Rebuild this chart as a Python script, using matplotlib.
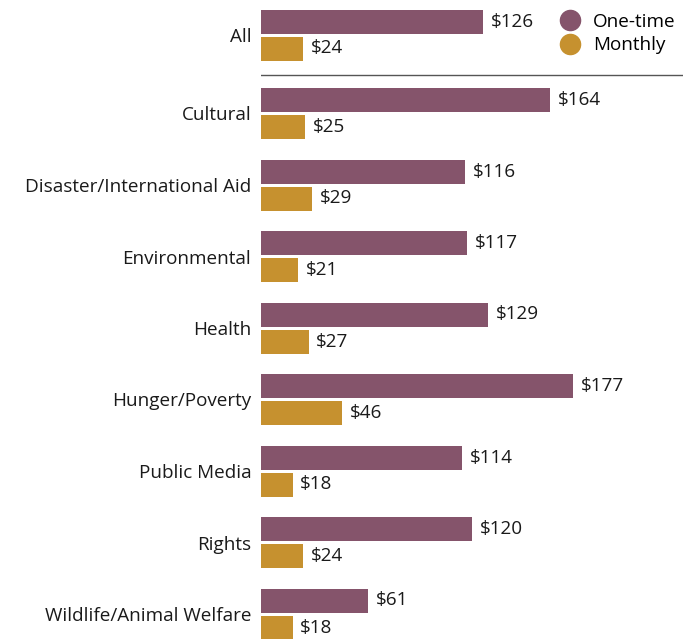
import matplotlib.pyplot as plt
import numpy as np
from matplotlib.lines import Line2D

plt.rcParams['font.family'] = ['Open Sans', 'DejaVu Sans']

# ==========================================
# Data
# ==========================================
categories = ['All', 'Cultural', 'Disaster/International Aid', 'Environmental',
              'Health', 'Hunger/Poverty', 'Public Media', 'Rights',
              'Wildlife/Animal Welfare']
one_time = [126, 164, 116, 117, 129, 177, 114, 120, 61]
monthly = [24, 25, 29, 21, 27, 46, 18, 24, 18]

c_one = '#85546B'
c_month = '#C6912F'

# ==========================================
# Layout (axes units ~ pixels vertically)
# ==========================================
W, H = 695, 639
fig = plt.figure(figsize=(W / 100, H / 100), dpi=100)
ax = fig.add_axes([261 / W, 0, 422 / W, 1])

spacing = 71.5
centers = np.arange(len(categories)) * spacing + 42
centers[0] = 35  # 'All' sits above the separator
bar_h = 24
off = 13.5

ax.barh(centers - off, one_time, height=bar_h, color=c_one)
ax.barh(centers + off, monthly, height=bar_h, color=c_month)

fs = 13.6
for y, v in zip(centers - off, one_time):
    ax.text(v + 4.3, y, f'${v}', va='center', ha='left', fontsize=fs, color='#1a1a1a')
for y, v in zip(centers + off, monthly):
    ax.text(v + 4.3, y, f'${v}', va='center', ha='left', fontsize=fs, color='#1a1a1a')

ax.axhline(75, color='#555555', lw=1)

ax.set_xlim(0, 422 / 1.762)
ax.set_ylim(H, 0)
ax.set_yticks(centers)
ax.set_yticklabels(categories, fontsize=fs, color='#1a1a1a')
ax.tick_params(axis='y', length=0, pad=7)
ax.set_xticks([])
for s in ax.spines.values():
    s.set_visible(False)

handles = [Line2D([], [], marker='o', ls='', markersize=14.5, color=c_one, label='One-time'),
           Line2D([], [], marker='o', ls='', markersize=14.5, color=c_month, label='Monthly')]
ax.legend(handles=handles, loc='upper right', bbox_to_anchor=(1.0, 0.992), frameon=False,
          fontsize=fs, handletextpad=0.6, labelspacing=0.3, borderaxespad=0,
          handlelength=1.2)

fig.savefig('out.png', dpi=100)
